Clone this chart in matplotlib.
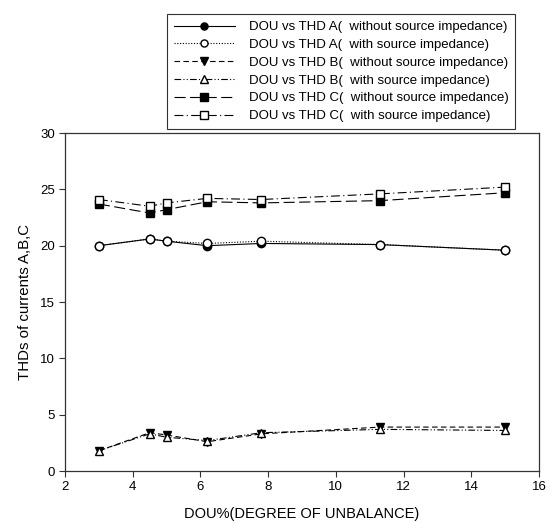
import matplotlib
matplotlib.use("Agg")
import matplotlib.pyplot as plt

plt.rcParams['font.family'] = ['Liberation Sans', 'DejaVu Sans']

# degree of unbalance (%)
dou = [3, 4.5, 5, 6.2, 7.8, 11.3, 15]

# THD of currents
thd_a_without = [20.0, 20.6, 20.4, 20.0, 20.2, 20.1, 19.6]
thd_a_with = [20.0, 20.6, 20.4, 20.2, 20.4, 20.1, 19.6]
thd_b_without = [1.8, 3.4, 3.2, 2.6, 3.3, 3.9, 3.9]
thd_b_with = [1.8, 3.3, 3.0, 2.7, 3.4, 3.7, 3.6]
thd_c_without = [23.7, 22.9, 23.2, 23.9, 23.8, 24.0, 24.7]
thd_c_with = [24.1, 23.5, 23.8, 24.2, 24.1, 24.6, 25.2]

labels = ['DOU vs THD A(  without source impedance)',
          'DOU vs THD A(  with source impedance)',
          'DOU vs THD B(  without source impedance)',
          'DOU vs THD B(  with source impedance)',
          'DOU vs THD C(  without source impedance)',
          'DOU vs THD C(  with source impedance)']

fig = plt.figure(figsize=(5.48, 5.24), dpi=100)
ax = fig.add_axes([0.1186, 0.1011, 0.865, 0.645])

lw = 0.8
ms = 6
ax.plot(dou, thd_a_without, color='black', lw=lw, ls='-', marker='o',
        ms=ms, mfc='black', mec='black', label=labels[0])
ax.plot(dou, thd_a_with, color='black', lw=lw, ls=(0, (1, 1.5)), marker='o',
        ms=ms, mfc='white', mec='black', label=labels[1])
ax.plot(dou, thd_b_without, color='black', lw=lw, ls=(0, (5, 3)), marker='v',
        ms=ms, mfc='black', mec='black', label=labels[2])
ax.plot(dou, thd_b_with, color='black', lw=lw, ls=(0, (6, 2, 1, 2, 1, 2)), marker='^',
        ms=ms, mfc='white', mec='black', label=labels[3])
ax.plot(dou, thd_c_without, color='black', lw=lw, ls=(0, (10, 4)), marker='s',
        ms=ms, mfc='black', mec='black', label=labels[4])
ax.plot(dou, thd_c_with, color='black', lw=lw, ls=(0, (8, 3, 1, 3)), marker='s',
        ms=ms, mfc='white', mec='black', label=labels[5])

ax.set_xlim(2, 16)
ax.set_ylim(0, 30)
ax.set_xticks(range(2, 17, 2))
ax.set_yticks(range(0, 31, 5))
ax.tick_params(direction='out', length=4, width=0.8, labelsize=9.5, colors='#333333',
               labelcolor='black', pad=3)
for s in ax.spines.values():
    s.set_linewidth(0.9)
    s.set_color('#333333')

ax.set_xlabel('DOU%(DEGREE OF UNBALANCE)', fontsize=10.5, labelpad=10)
ax.set_ylabel('THDs of currents A,B,C', fontsize=10.8, labelpad=6)

leg = fig.legend(loc='upper right', bbox_to_anchor=(0.9526, 0.985),
                 bbox_transform=fig.transFigure, fontsize=9.5, handlelength=4.6,
                 handletextpad=1.1, labelspacing=0.42, borderpad=0.5,
                 fancybox=False, edgecolor='#333333', framealpha=1,
                 markerscale=0.85)
leg.get_frame().set_linewidth(0.8)

fig.savefig('out.png', dpi=100)
